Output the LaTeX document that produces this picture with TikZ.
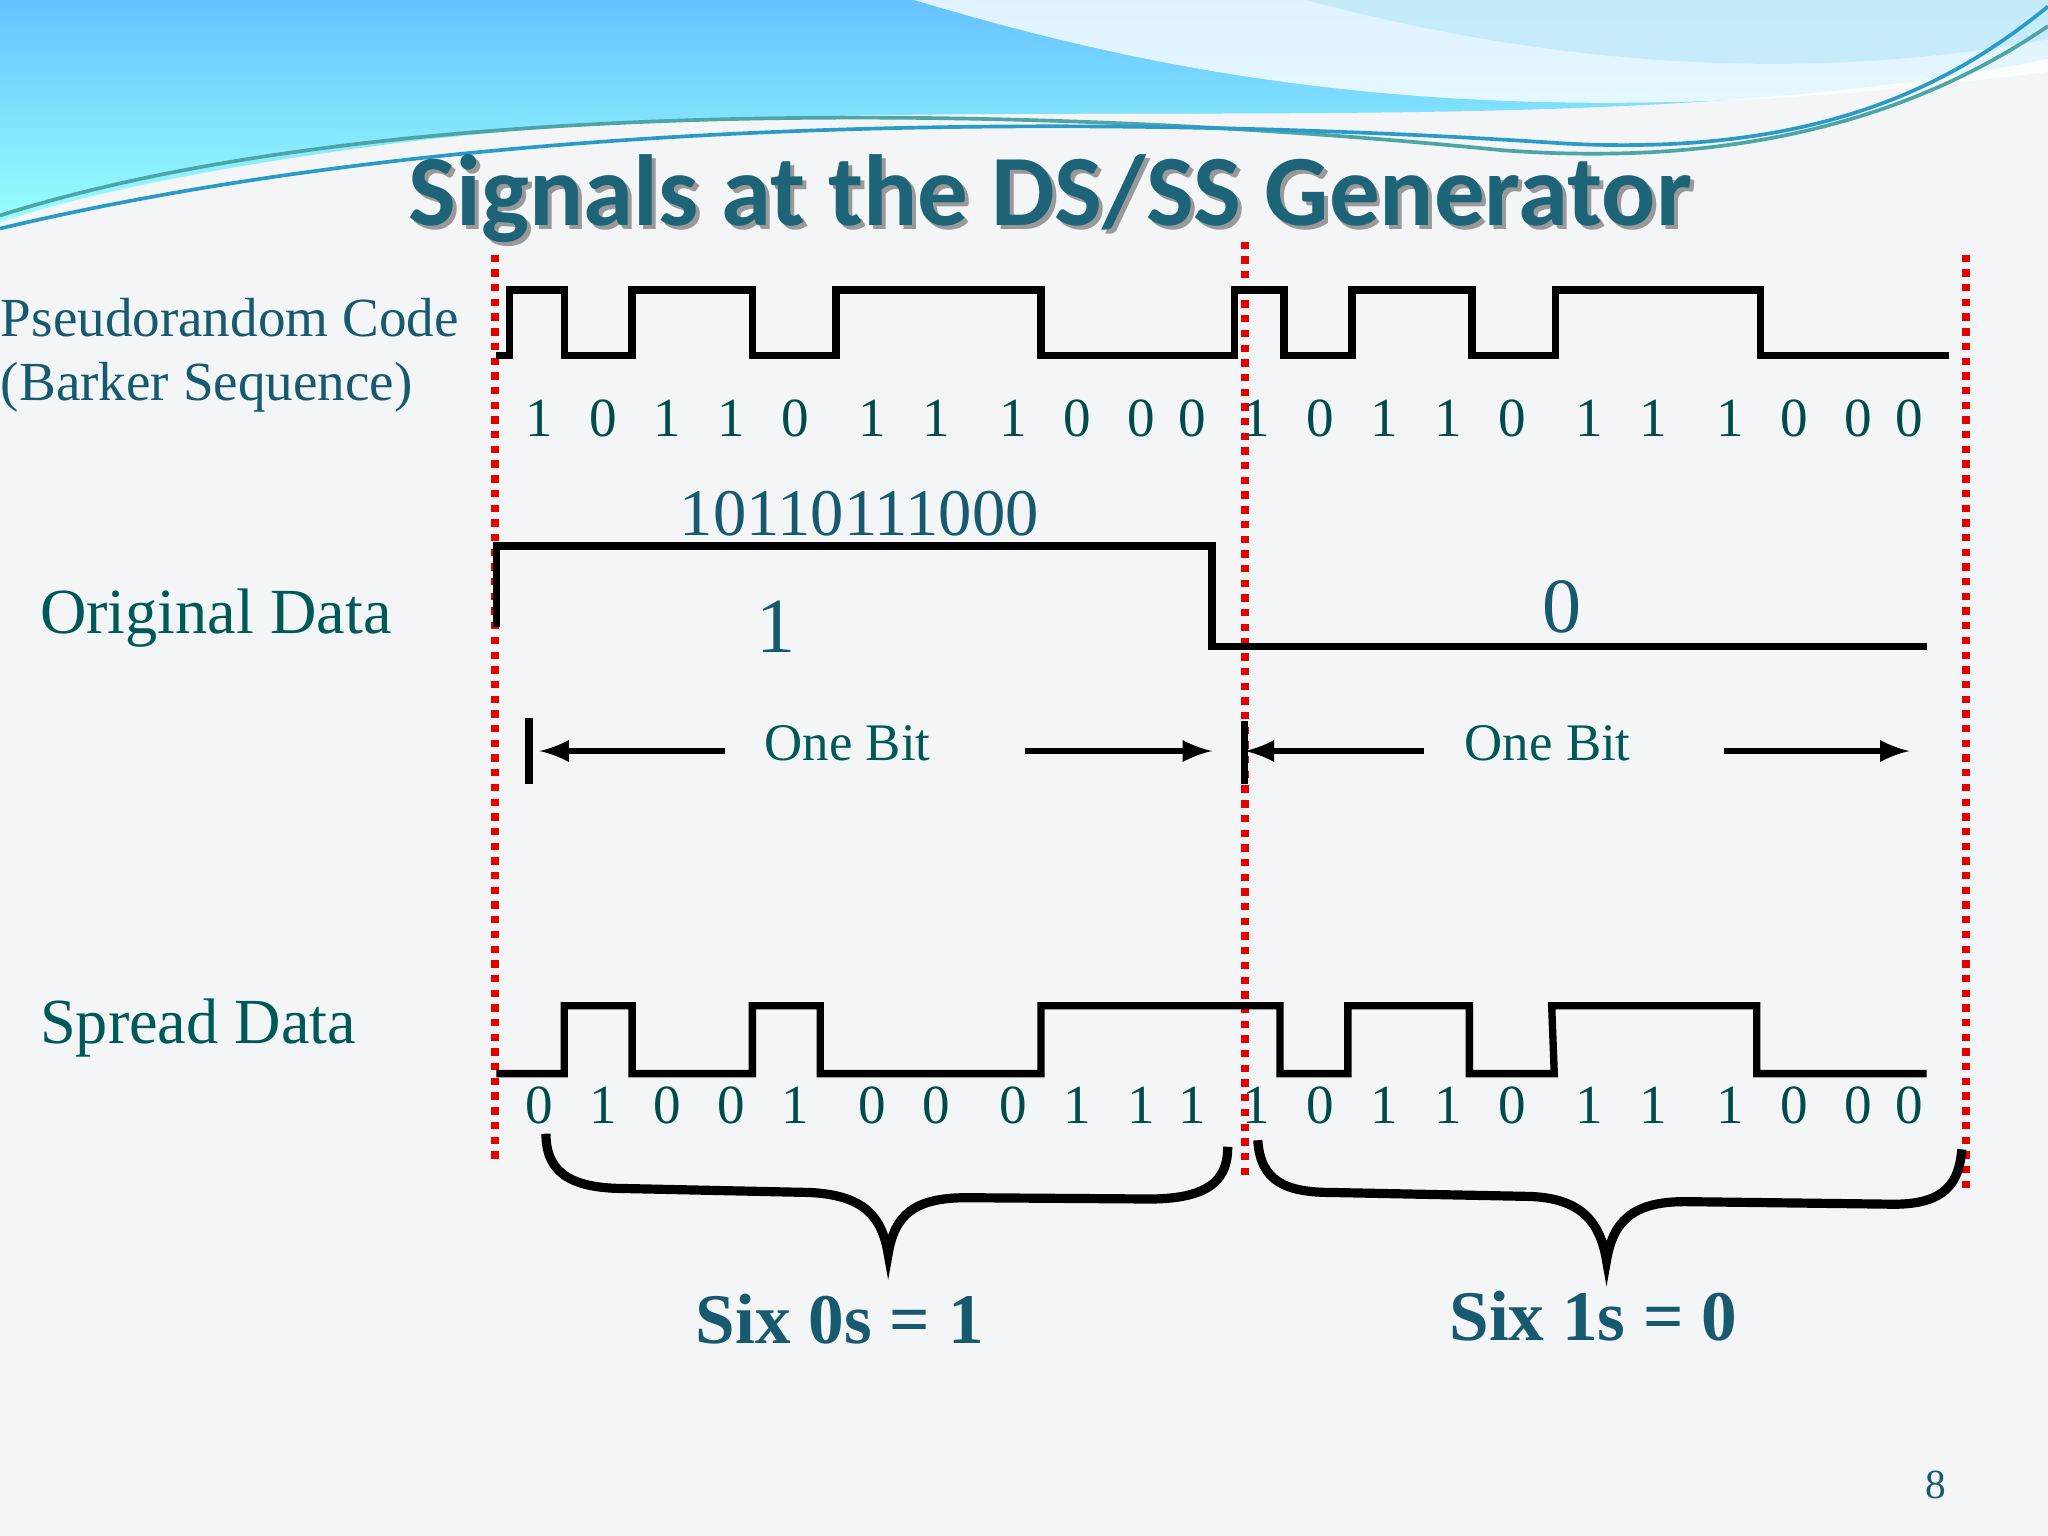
\documentclass[tikz,border=0pt]{standalone}
\usepackage{fontspec}
\setmainfont{Liberation Serif}
\newfontfamily\tfont{Carlito}
\begin{document}
\begin{tikzpicture}[x=0.01cm,y=-0.01cm,
  wave/.style={line width=1.6pt,black},
  red/.style={red!90!black,line width=1.8pt,dash pattern=on 1.6pt off 1.6pt},
  dig/.style={font=\fontsize{12}{12}\selectfont,text=teal!60!black},
  lab/.style={font=\fontsize{14}{14}\selectfont,text=teal!70!black},
  arr/.style={line width=1.2pt,-latex},
  brace/.style={line width=2pt,black}]
\definecolor{bg}{HTML}{F4F5F7}
\definecolor{tc}{HTML}{1D6479}
\definecolor{dc}{HTML}{175A70}
\fill[bg] (0,0) rectangle (1568,1176);
\useasboundingbox (0,0) rectangle (1568,1176);
% top decoration
\shade[top color=cyan!60!blue!60,bottom color=cyan!40] (0,0) -- (1568,0) -- (1568,45) .. controls (1200,120) and (700,60) .. (300,110) .. controls (150,130) and (60,150) .. (0,170) -- cycle;
\fill[white,opacity=0.8] (700,0) .. controls (900,60) and (1150,110) .. (1568,55) -- (1568,0) -- cycle;
\fill[cyan!25,opacity=0.8] (1000,0) .. controls (1150,40) and (1350,70) .. (1568,30) -- (1568,0) -- cycle;
\draw[teal!70,line width=0.8pt] (0,165) .. controls (300,70) and (800,80) .. (1150,115) .. controls (1350,130) and (1480,80) .. (1568,20);
\draw[cyan!60!teal,line width=0.8pt] (0,175) .. controls (400,80) and (900,90) .. (1200,110) .. controls (1400,120) and (1500,60) .. (1568,5);
% title
\node[font=\tfont\bfseries\fontsize{22}{22}\selectfont,text=black!40] (t0) at (807,155) {Signals at the DS/SS Generator};
\node[font=\tfont\bfseries\fontsize{22}{22}\selectfont,text=tc] (title) at (804,152) {Signals at the DS/SS Generator};
% red dotted lines
\coordinate (r1a) at (379,195); \coordinate (r1b) at (379,888);
\coordinate (r2a) at (953,185); \coordinate (r2b) at (953,900);
\coordinate (r3a) at (1505,195); \coordinate (r3b) at (1505,915);
\draw[red] (r1a)--(r1b); \draw[red] (r2a)--(r2b); \draw[red] (r3a)--(r3b);
% labels
\node[anchor=west,inner sep=0pt,font=\fontsize{12}{14}\selectfont,text=dc,align=left] (pc) at (0,272) {Pseudorandom Code\\(Barker Sequence)};
\node[lab,anchor=west,inner sep=0pt] (od) at (30,473) {Original Data};
\node[lab,anchor=west,inner sep=0pt] (sd) at (30,787) {Spread Data};
% PN code wave
\draw[wave] (380,272) -- (390,272) -- (390,222) -- (432,222) -- (432,272) -- (484,272) -- (484,222) -- (576,222) -- (576,272) -- (640,272) -- (640,222) -- (797,222) -- (797,272) -- (945,272) -- (945,222) -- (983,222) -- (983,272) -- (1035,272) -- (1035,222) -- (1127,222) -- (1127,272) -- (1191,272) -- (1191,222) -- (1348,222) -- (1348,272) -- (1492,272);
\foreach \x/\d in {413/1,462/0,511/1,560/1,609/0,668/1,717/1,776/1,825/0,874/0,913/0,962/1,1011/0,1060/1,1109/1,1158/0,1217/1,1266/1,1325/1,1374/0,1423/0,1462/0}
  \node[dig] at (\x,320) {\d};
% original data
\draw[wave] (380,480) -- (380,418) -- (928,418) -- (928,495) -- (1475,495);
\node[font=\fontsize{14.5}{14}\selectfont,text=dc] (code) at (658,393) {10110111000};
\node[font=\fontsize{17}{17}\selectfont,text=dc] (one) at (594,480) {1};
\node[font=\fontsize{17}{17}\selectfont,text=dc] (zero) at (1196,465) {0};
% one bit arrows
\node[lab,font=\fontsize{11.5}{12}\selectfont] (ob1) at (649,569) {One Bit};
\node[lab,font=\fontsize{11.5}{12}\selectfont] (ob2) at (1185,569) {One Bit};
\coordinate (b1a) at (405,550); \coordinate (b1b) at (405,600);
\coordinate (b2a) at (953,552); \coordinate (b2b) at (953,600);
\draw[line width=1.6pt] (b1a)--(b1b); \draw[line width=1.6pt] (b2a)--(b2b);
\coordinate (a1s) at (555,575); \coordinate (a1e) at (413,575);
\coordinate (a2s) at (785,575); \coordinate (a2e) at (928,575);
\coordinate (a3s) at (1090,575); \coordinate (a3e) at (953,575);
\coordinate (a4s) at (1320,575); \coordinate (a4e) at (1462,575);
\draw[arr] (a1s)--(a1e); \draw[arr] (a2s)--(a2e); \draw[arr] (a3s)--(a3e); \draw[arr] (a4s)--(a4e);
% spread data
\draw[wave] (380,822) -- (432,822) -- (432,770) -- (484,770) -- (484,822) -- (576,822) -- (576,770) -- (628,770) -- (628,822) -- (797,822) -- (797,770) -- (980,770) -- (980,822) -- (1032,822) -- (1032,770) -- (1125,770) -- (1125,822) -- (1190,822) -- (1188,770) -- (1345,770) -- (1345,822) -- (1475,822);
\foreach \x/\d in {413/0,462/1,511/0,560/0,609/1,668/0,717/0,776/0,825/1,874/1,913/1,962/1,1011/0,1060/1,1109/1,1158/0,1217/1,1266/1,1325/1,1374/0,1423/0,1462/0}
  \node[dig] at (\x,846) {\d};
% braces
\draw[brace] (418,868) .. controls (418,900) and (440,910) .. (480,910) -- (620,913) .. controls (660,915) and (675,930) .. (680,960) .. controls (685,930) and (700,917) .. (740,917) -- (880,918) .. controls (930,918) and (940,900) .. (940,878);
\draw[brace] (963,873) .. controls (965,905) and (985,913) .. (1020,913) -- (1170,916) .. controls (1210,917) and (1225,935) .. (1230,965) .. controls (1235,935) and (1250,920) .. (1290,920) -- (1450,922) .. controls (1490,922) and (1500,905) .. (1502,880);
\node[font=\bfseries\fontsize{15.5}{16}\selectfont,text=dc] (s1) at (643,1010) {Six 0s = 1};
\node[font=\bfseries\fontsize{15.5}{16}\selectfont,text=dc] (s2) at (1220,1008) {Six 1s = 0};
\node[font=\fontsize{9}{9}\selectfont,text=dc] (pg) at (1482,1137) {8};
\end{tikzpicture}
\end{document}
